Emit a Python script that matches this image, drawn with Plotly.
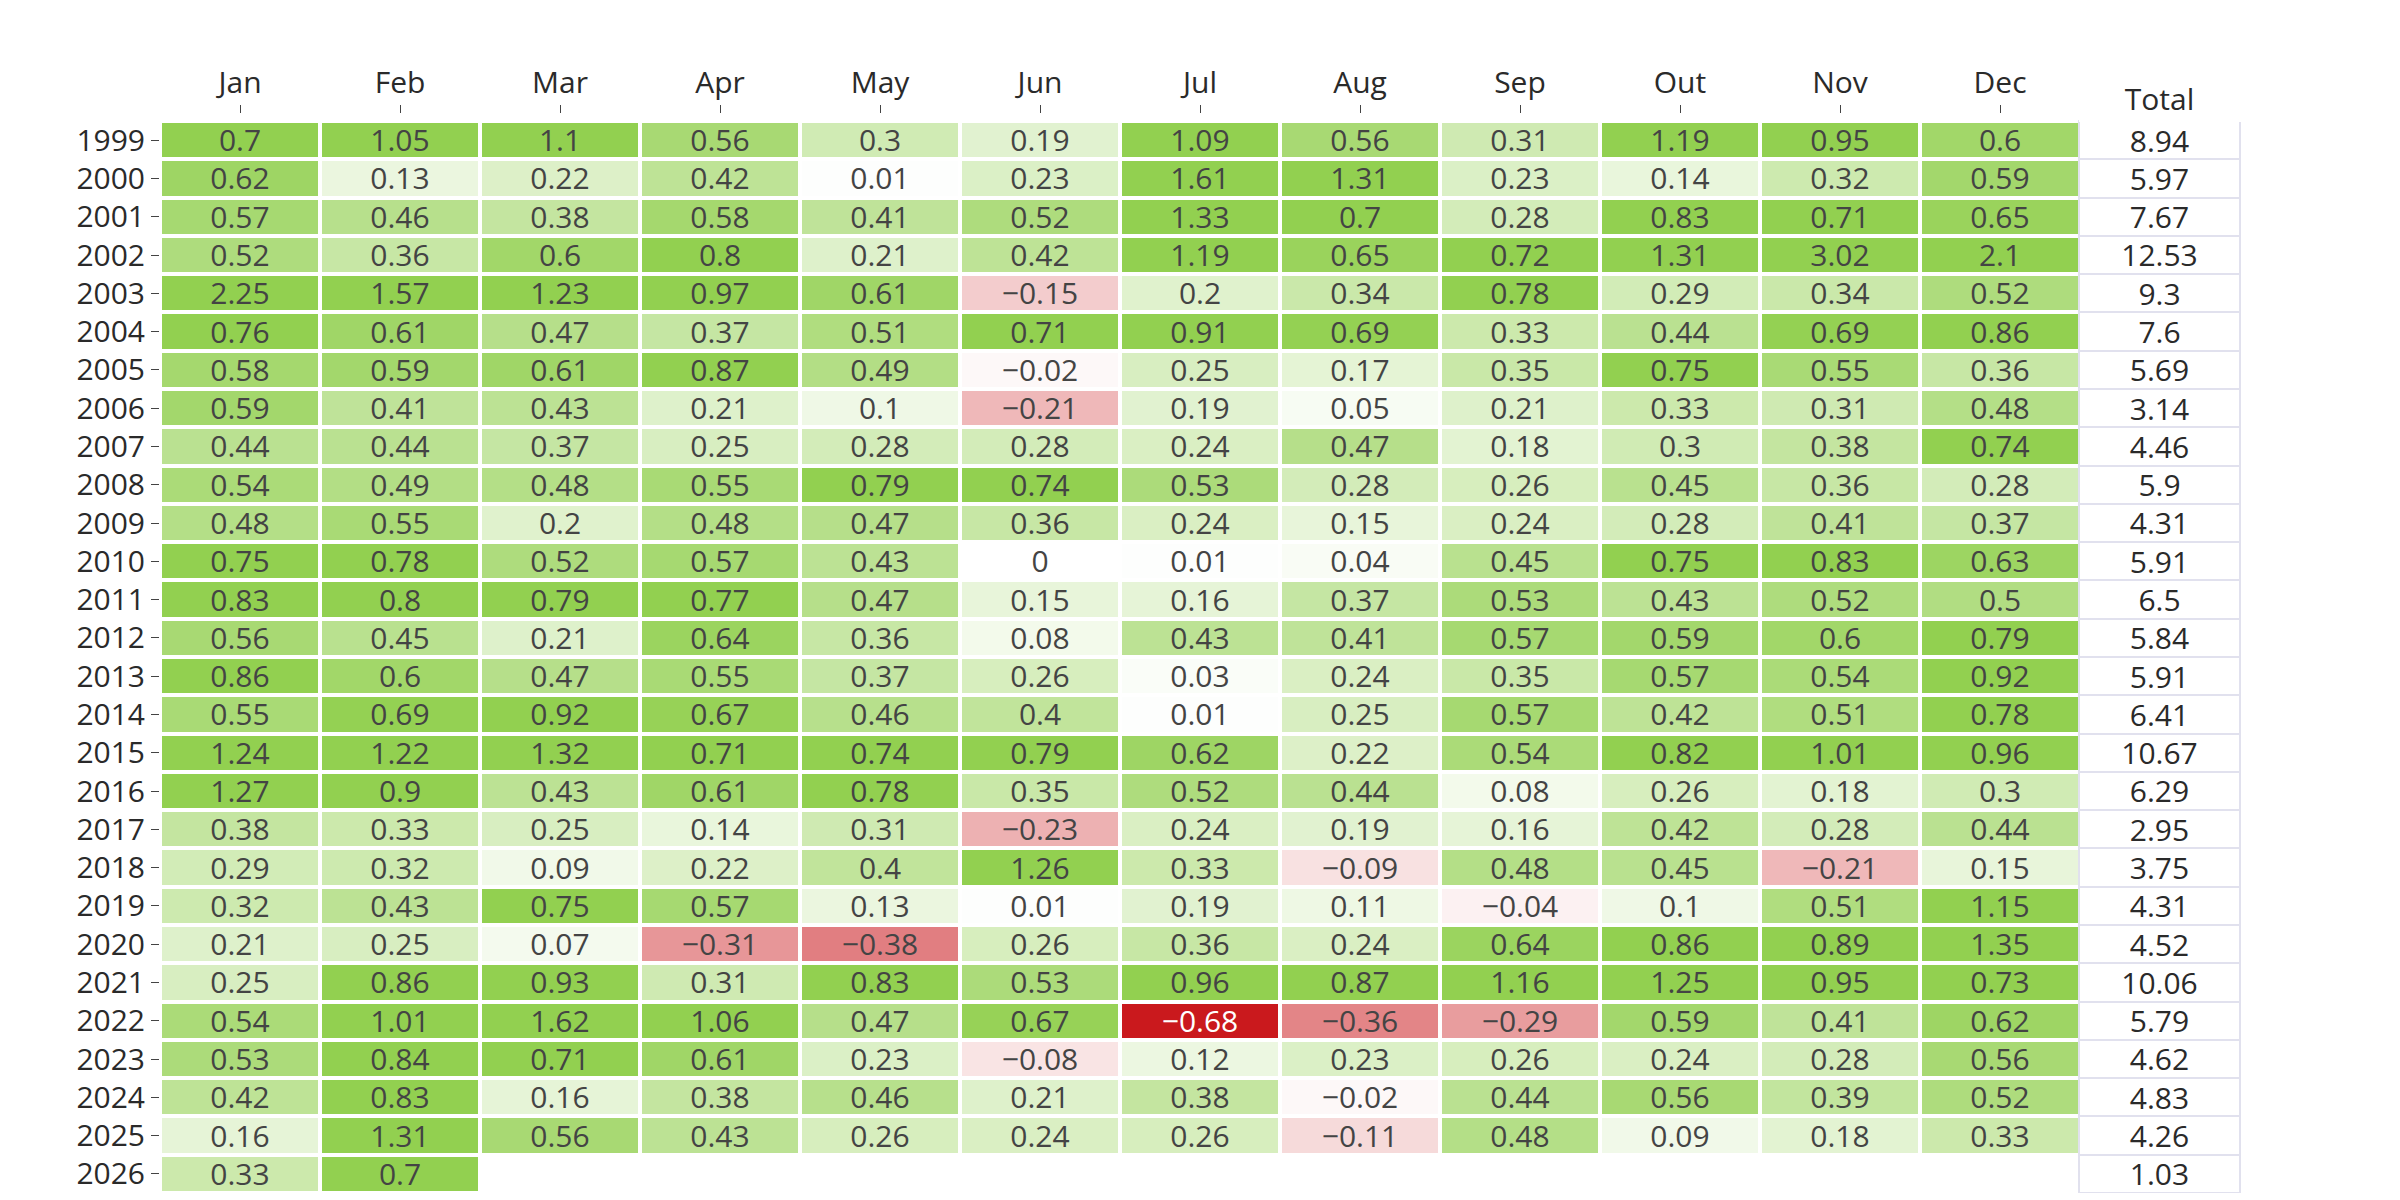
import plotly.graph_objects as go

months = ["Jan", "Feb", "Mar", "Apr", "May", "Jun", "Jul", "Aug", "Sep", "Out", "Nov", "Dec"]
years = [str(y) for y in range(1999, 2027)]

r1999 = [0.7, 1.05, 1.1, 0.56, 0.3, 0.19, 1.09, 0.56, 0.31, 1.19, 0.95, 0.6]
r2000 = [0.62, 0.13, 0.22, 0.42, 0.01, 0.23, 1.61, 1.31, 0.23, 0.14, 0.32, 0.59]
r2001 = [0.57, 0.46, 0.38, 0.58, 0.41, 0.52, 1.33, 0.7, 0.28, 0.83, 0.71, 0.65]
r2002 = [0.52, 0.36, 0.6, 0.8, 0.21, 0.42, 1.19, 0.65, 0.72, 1.31, 3.02, 2.1]
r2003 = [2.25, 1.57, 1.23, 0.97, 0.61, -0.15, 0.2, 0.34, 0.78, 0.29, 0.34, 0.52]
r2004 = [0.76, 0.61, 0.47, 0.37, 0.51, 0.71, 0.91, 0.69, 0.33, 0.44, 0.69, 0.86]
r2005 = [0.58, 0.59, 0.61, 0.87, 0.49, -0.02, 0.25, 0.17, 0.35, 0.75, 0.55, 0.36]
r2006 = [0.59, 0.41, 0.43, 0.21, 0.1, -0.21, 0.19, 0.05, 0.21, 0.33, 0.31, 0.48]
r2007 = [0.44, 0.44, 0.37, 0.25, 0.28, 0.28, 0.24, 0.47, 0.18, 0.3, 0.38, 0.74]
r2008 = [0.54, 0.49, 0.48, 0.55, 0.79, 0.74, 0.53, 0.28, 0.26, 0.45, 0.36, 0.28]
r2009 = [0.48, 0.55, 0.2, 0.48, 0.47, 0.36, 0.24, 0.15, 0.24, 0.28, 0.41, 0.37]
r2010 = [0.75, 0.78, 0.52, 0.57, 0.43, 0, 0.01, 0.04, 0.45, 0.75, 0.83, 0.63]
r2011 = [0.83, 0.8, 0.79, 0.77, 0.47, 0.15, 0.16, 0.37, 0.53, 0.43, 0.52, 0.5]
r2012 = [0.56, 0.45, 0.21, 0.64, 0.36, 0.08, 0.43, 0.41, 0.57, 0.59, 0.6, 0.79]
r2013 = [0.86, 0.6, 0.47, 0.55, 0.37, 0.26, 0.03, 0.24, 0.35, 0.57, 0.54, 0.92]
r2014 = [0.55, 0.69, 0.92, 0.67, 0.46, 0.4, 0.01, 0.25, 0.57, 0.42, 0.51, 0.78]
r2015 = [1.24, 1.22, 1.32, 0.71, 0.74, 0.79, 0.62, 0.22, 0.54, 0.82, 1.01, 0.96]
r2016 = [1.27, 0.9, 0.43, 0.61, 0.78, 0.35, 0.52, 0.44, 0.08, 0.26, 0.18, 0.3]
r2017 = [0.38, 0.33, 0.25, 0.14, 0.31, -0.23, 0.24, 0.19, 0.16, 0.42, 0.28, 0.44]
r2018 = [0.29, 0.32, 0.09, 0.22, 0.4, 1.26, 0.33, -0.09, 0.48, 0.45, -0.21, 0.15]
r2019 = [0.32, 0.43, 0.75, 0.57, 0.13, 0.01, 0.19, 0.11, -0.04, 0.1, 0.51, 1.15]
r2020 = [0.21, 0.25, 0.07, -0.31, -0.38, 0.26, 0.36, 0.24, 0.64, 0.86, 0.89, 1.35]
r2021 = [0.25, 0.86, 0.93, 0.31, 0.83, 0.53, 0.96, 0.87, 1.16, 1.25, 0.95, 0.73]
r2022 = [0.54, 1.01, 1.62, 1.06, 0.47, 0.67, -0.68, -0.36, -0.29, 0.59, 0.41, 0.62]
r2023 = [0.53, 0.84, 0.71, 0.61, 0.23, -0.08, 0.12, 0.23, 0.26, 0.24, 0.28, 0.56]
r2024 = [0.42, 0.83, 0.16, 0.38, 0.46, 0.21, 0.38, -0.02, 0.44, 0.56, 0.39, 0.52]
r2025 = [0.16, 1.31, 0.56, 0.43, 0.26, 0.24, 0.26, -0.11, 0.48, 0.09, 0.18, 0.33]
r2026 = [0.33, 0.7, None, None, None, None, None, None, None, None, None, None]

totals = [8.94, 5.97, 7.67, 12.53, 9.3, 7.6, 5.69, 3.14, 4.46, 5.9, 4.31, 5.91, 6.5,
          5.84, 5.91, 6.41, 10.67, 6.29, 2.95, 3.75, 4.31, 4.52, 10.06, 5.79, 4.62,
          4.83, 4.26, 1.03]

z = [r1999, r2000, r2001, r2002, r2003, r2004, r2005, r2006, r2007, r2008, r2009,
     r2010, r2011, r2012, r2013, r2014, r2015, r2016, r2017, r2018, r2019, r2020,
     r2021, r2022, r2023, r2024, r2025, r2026]


def fmt(v):
    if v is None:
        return ""
    s = f"{v:g}"
    return s.replace("-", "\u2212")


text = [[fmt(v) for v in row] for row in z]

W, H = 2400, 1200
OFF = 8  # page body margin offset
FONT = "Open Sans"
FS = 30
TXT = "#2a2a2a"

fig = go.Figure()
fig.add_trace(go.Heatmap(
    z=z, x=months, y=years, text=text, texttemplate="%{text}",
    textfont=dict(family=FONT, size=FS),
    colorscale=[[0, "rgb(200,18,22)"], [0.5, "rgb(255,255,255)"], [1, "rgb(146,208,80)"]],
    zmin=-0.7, zmax=0.7, zmid=0, showscale=False, xgap=4, ygap=4,
    hoverongaps=False,
))

# geometry (pixels in figure -> paper)
m_t, m_b = 30, 0
paper_h = H - m_t - m_b
plot_top_px, plot_bot_px = 121 - OFF, 1193 - OFF
ydom = [(H - m_b - plot_bot_px) / paper_h, (H - m_b - plot_top_px) / paper_h]
row_h = (plot_bot_px - plot_top_px) / len(years)
header_h = 42
xaxis_px = 113 - OFF

fig.add_trace(go.Table(
    domain=dict(x=[(2079 - OFF) / W, (2240 - OFF) / W],
                y=[ydom[0], (H - m_b - plot_top_px + header_h) / paper_h]),
    columnwidth=[1],
    header=dict(values=["Total"], fill_color="white", line_color="white",
                font=dict(family=FONT, size=FS, color=TXT), height=header_h,
                align="center"),
    cells=dict(values=[[fmt(t) for t in totals]], fill_color="white",
               line=dict(color="rgb(225,225,238)", width=2),
               font=dict(family=FONT, size=FS, color=TXT), height=row_h,
               align="center"),
))

fig.update_layout(
    width=W, height=H,
    margin=dict(l=0, r=0, t=m_t, b=m_b, pad=0),
    paper_bgcolor="white", plot_bgcolor="white",
    font=dict(family=FONT, size=FS, color=TXT),
    xaxis=dict(domain=[(160 - OFF) / W, (2080 - OFF) / W], side="top", anchor="free",
               position=(H - m_b - xaxis_px) / paper_h, automargin=False,
               ticks="outside", ticklen=8, tickcolor="#444", showgrid=False,
               zeroline=False, showline=False, tickfont=dict(family=FONT, size=FS, color=TXT)),
    yaxis=dict(domain=ydom, autorange="reversed", type="category", automargin=False,
               ticks="outside", ticklen=8, tickcolor="#444", showgrid=False,
               zeroline=False, showline=False, tickfont=dict(family=FONT, size=FS, color=TXT)),
)

fig.write_html("out.html")
